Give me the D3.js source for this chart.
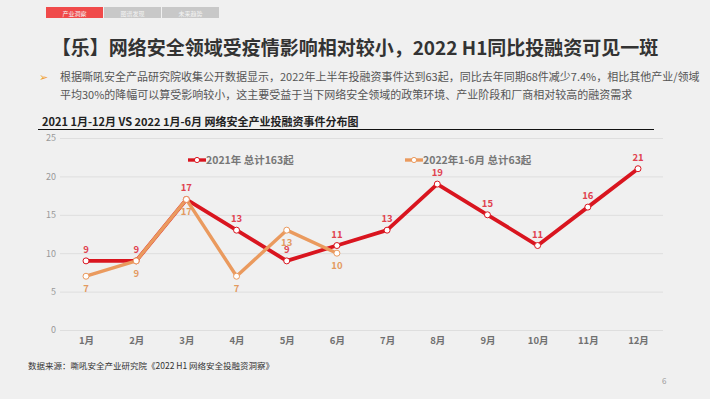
<!DOCTYPE html>
<html>
<head>
<meta charset="utf-8">
<script src="https://cdn.jsdelivr.net/npm/d3@7"></script>
<style>
  body { margin: 0; background: #f0f0f0; }
  svg { display: block; font-family: "Noto Sans CJK SC", "Noto Sans", sans-serif; }
</style>
</head>
<body>
<svg id="chart" width="710" height="399"></svg>
<script>
// chart data
const months = ["1月", "2月", "3月", "4月", "5月", "6月", "7月", "8月", "9月", "10月", "11月", "12月"];
const events2021 = [9, 9, 17, 13, 9, 11, 13, 19, 15, 11, 16, 21];
const events2022 = [7, 9, 17, 7, 13, 10];
const yTicks = [0, 5, 10, 15, 20, 25];
const seriesNames = ["2021年 总计163起", "2022年1-6月 总计63起"];
const tabs = ["产业洞察", "图谱发现", "未来趋势"];

const svg = d3.select("#chart");

// background
svg.append("rect").attr("width", 710).attr("height", 399).attr("fill", "#f0f0f0");

// top tabs
tabs.forEach((t, i) => {
  svg.append("rect")
    .attr("x", 46 + i * 58).attr("y", 7).attr("width", 57).attr("height", 11)
    .attr("fill", i === 0 ? "#f04a4a" : "#c8c8c8");
  svg.append("text")
    .attr("x", 46 + i * 58 + 28.5).attr("y", 15.5)
    .attr("text-anchor", "middle").attr("font-size", 6).attr("fill", "#f4f4f4")
    .text(t);
});

// headline
svg.append("text")
  .attr("x", 355).attr("y", 55).attr("text-anchor", "middle")
  .attr("font-size", 19).attr("font-weight", "bold").attr("fill", "#333")
  .text("【乐】网络安全领域受疫情影响相对较小，2022 H1同比投融资可见一斑");

// bullet text
svg.append("text").attr("x", 39).attr("y", 81).attr("font-size", 11).attr("fill", "#f0a030").text("➢");
svg.append("text").attr("x", 60).attr("y", 81).attr("font-size", 11).attr("fill", "#555")
  .text("根据嘶吼安全产品研究院收集公开数据显示，2022年上半年投融资事件达到63起，同比去年同期68件减少7.4%，相比其他产业/领域");
svg.append("text").attr("x", 60).attr("y", 99).attr("font-size", 11).attr("fill", "#555")
  .text("平均30%的降幅可以算受影响较小，这主要受益于当下网络安全领域的政策环境、产业阶段和厂商相对较高的融资需求");

// chart title
svg.append("text").attr("x", 42).attr("y", 126).attr("font-size", 11).attr("font-weight", "bold").attr("fill", "#222")
  .text("2021 1月-12月 VS 2022 1月-6月 网络安全产业投融资事件分布图");
svg.append("line").attr("x1", 38).attr("x2", 654).attr("y1", 129.5).attr("y2", 129.5)
  .attr("stroke", "#111").attr("stroke-width", 1.2);

// scales
const x = d3.scalePoint().domain(months).range([86, 638]);
const y = d3.scaleLinear().domain([0, 25]).range([330, 138]);

// grid
svg.append("g")
  .selectAll("line").data(yTicks).join("line")
  .attr("x1", 60).attr("x2", 663)
  .attr("y1", d => y(d) + 0.5).attr("y2", d => y(d) + 0.5)
  .attr("stroke", "#dedede").attr("stroke-width", 1);

// y axis
const yAxis = svg.append("g")
  .attr("transform", "translate(56,0)")
  .call(d3.axisLeft(y).tickValues(yTicks).tickSize(0).tickPadding(0));
yAxis.select(".domain").remove();
yAxis.selectAll("text").attr("font-size", 9).attr("fill", "#999").attr("font-family", "Noto Sans CJK SC");

// x axis
const xAxis = svg.append("g")
  .attr("transform", "translate(0,332)")
  .call(d3.axisBottom(x).tickSize(0).tickPadding(5));
xAxis.select(".domain").remove();
xAxis.selectAll("text").attr("font-size", 9.5).attr("fill", "#707070").attr("font-weight", "bold").attr("font-family", "Noto Sans CJK SC");

const line = d3.line().x((d, i) => x(months[i])).y(d => y(d));

const series = [
  { name: seriesNames[0], values: events2021, color: "#d9151f", label: "#e0424f", width: 3.8, dy: -8 },
  { name: seriesNames[1], values: events2022, color: "#ea9a5e", label: "#e39a5f", width: 3.4, dy: 16 }
];

// lines, 2022 on top
series.forEach(s => {
  svg.append("path").datum(s.values)
    .attr("d", line).attr("fill", "none")
    .attr("stroke", s.color).attr("stroke-width", s.width)
    .attr("stroke-linejoin", "round");
});
series.forEach(s => {
  svg.append("g").selectAll("circle").data(s.values).join("circle")
    .attr("cx", (d, i) => x(months[i])).attr("cy", d => y(d)).attr("r", 3)
    .attr("fill", "#fff").attr("stroke", s.color).attr("stroke-width", 1);
});
series.forEach(s => {
  svg.append("g").selectAll("text").data(s.values).join("text")
    .attr("x", (d, i) => x(months[i])).attr("y", d => y(d) + s.dy)
    .attr("text-anchor", "middle").attr("font-size", 9.5).attr("font-weight", "bold")
    .attr("fill", s.label).text(d => d);
});

// legend
const legendX = [188, 405];
series.forEach((s, i) => {
  const g = svg.append("g").attr("transform", `translate(${legendX[i]},160)`);
  g.append("line").attr("x1", 0).attr("x2", 18).attr("stroke", s.color).attr("stroke-width", 3.4);
  g.append("circle").attr("cx", 9).attr("r", 2.6).attr("fill", "#fff").attr("stroke", s.color);
  g.append("text").attr("x", 18).attr("y", 4).attr("font-size", 10.5).attr("font-weight", "bold")
    .attr("fill", "#777").text(s.name);
});

// footer
svg.append("text").attr("x", 28).attr("y", 369).attr("font-size", 8.5).attr("fill", "#333")
  .text("数据来源：嘶吼安全产业研究院《2022 H1 网络安全投融资洞察》");
svg.append("text").attr("x", 662).attr("y", 384).attr("font-size", 8).attr("fill", "#999").text("6");
</script>
</body>
</html>
